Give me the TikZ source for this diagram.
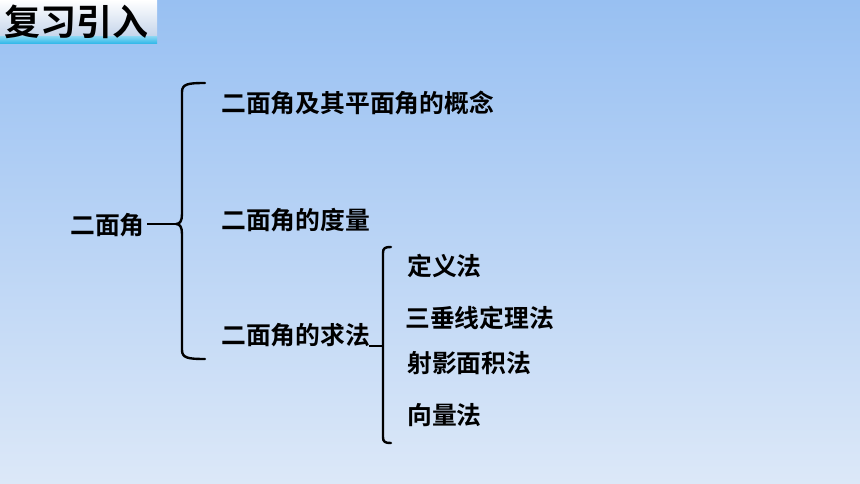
\documentclass[tikz,border=0pt]{standalone}
\usepackage{fontspec}
\newfontfamily\cjk{Noto Sans CJK SC}[BoldFont={Noto Sans CJK SC Bold}]
\definecolor{bgtop}{HTML}{98C0F2}
\definecolor{bgbot}{HTML}{DCE8F8}
\definecolor{ttop}{HTML}{FFFFFF}
\definecolor{tbot}{HTML}{C4D4EA}
\definecolor{tstrip}{HTML}{2BB6E8}
\begin{document}
\begin{tikzpicture}[x=1pt,y=-1pt,
  item/.style={anchor=west,inner sep=0pt,font=\cjk\bfseries\fontsize{24.8}{24.8}\selectfont,text=black},
  brace/.style={draw=black,line width=2.4pt,line join=round,line cap=round},
  link/.style={draw=black,line width=2.4pt}]
\useasboundingbox (0,0) rectangle (860,484);
\shade[top color=bgtop,bottom color=bgbot] (0,0) rectangle (860,484);
% title box
\shade[top color=ttop,bottom color=tbot] (0,0) rectangle (157,37);
\shade[top color=tstrip!60!white,bottom color=tstrip] (0,37) rectangle (157,44);
\node[inner sep=0pt,font=\cjk\bfseries\fontsize{36}{36}\selectfont] (title) at (77,22) {复习引入};
% main nodes
\node[item] (root) at (70,225) {二面角};
\node[item] (a1) at (221,103) {二面角及其平面角的概念};
\node[item] (a2) at (221,220) {二面角的度量};
\node[item] (a3) at (221,335) {二面角的求法};
\node[item] (b1) at (407,266) {定义法};
\node[item] (b2) at (405,318) {三垂线定理法};
\node[item] (b3) at (407,363) {射影面积法};
\node[item] (b4) at (407,415) {向量法};
% first brace
\coordinate (t1) at (205,83);
\coordinate (m1) at (176,224);
\coordinate (e1) at (205,359);
\draw[brace] (t1) .. controls (188,83) and (182,84) .. (182,92)
  -- (182,214) .. controls (182,221) and (180,224) .. (m1)
  .. controls (180,224) and (182,227) .. (182,234)
  -- (182,350) .. controls (182,358) and (188,359) .. (e1);
\coordinate (r0) at (147,224);
\draw[link] (r0) -- (m1);
% second brace
\coordinate (t2) at (391,247);
\coordinate (m2) at (383,346);
\coordinate (e2) at (391,443);
\draw[brace] (t2) .. controls (385,247) and (383,248) .. (383,253)
  -- (383,437) .. controls (383,442) and (385,443) .. (e2);
\coordinate (s0) at (369,346);
\draw[link] (s0) -- (m2);
\end{tikzpicture}
\end{document}
